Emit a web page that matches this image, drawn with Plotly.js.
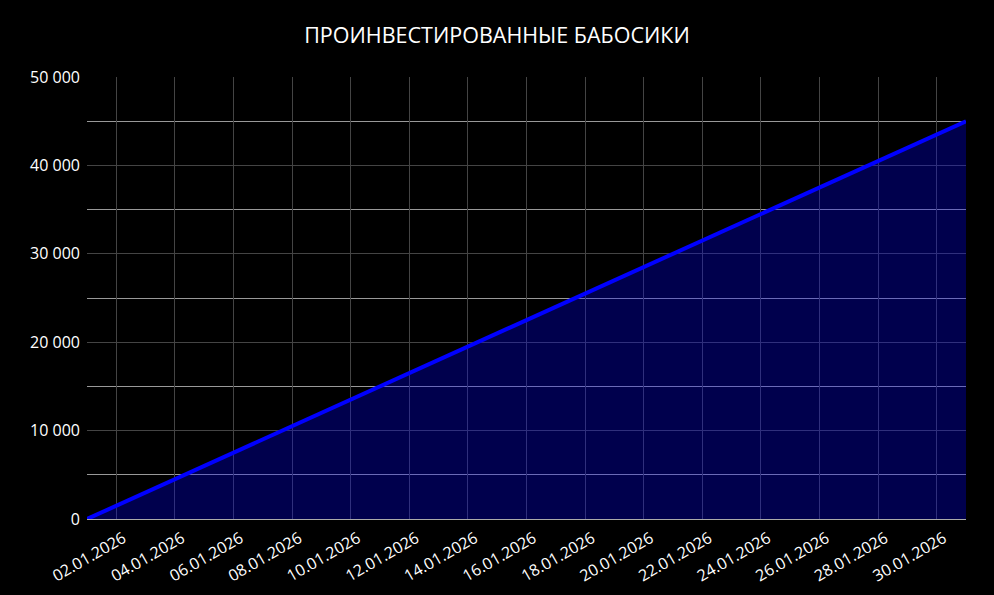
<!DOCTYPE html>
<html>
<head>
<meta charset="utf-8">
<script src="https://cdn.plot.ly/plotly-3.0.1.min.js"></script>
<style>html,body{margin:0;padding:0;background:#000;}#chart{width:994px;height:595px;}</style>
</head>
<body>
<div id="chart"></div>
<script>
const dates = ['2026-01-01','2026-01-02','2026-01-03','2026-01-04','2026-01-05','2026-01-06','2026-01-07','2026-01-08','2026-01-09','2026-01-10','2026-01-11','2026-01-12','2026-01-13','2026-01-14','2026-01-15','2026-01-16','2026-01-17','2026-01-18','2026-01-19','2026-01-20','2026-01-21','2026-01-22','2026-01-23','2026-01-24','2026-01-25','2026-01-26','2026-01-27','2026-01-28','2026-01-29','2026-01-30','2026-01-31'];
const invested = [0,1500,3000,4500,6000,7500,9000,10500,12000,13500,15000,16500,18000,19500,21000,22500,24000,25500,27000,28500,30000,31500,33000,34500,36000,37500,39000,40500,42000,43500,45000];
const titleText = 'ПРОИНВЕСТИРОВАННЫЕ БАБОСИКИ';

const font = "'Open Sans', 'Noto Sans', sans-serif";
Plotly.newPlot('chart', [{
  x: dates, y: invested, type: 'scatter', mode: 'lines',
  line: {color: '#0000ff', width: 4},
  fill: 'tozeroy', fillcolor: 'rgba(0,0,255,0.3)',
  hoverinfo: 'skip'
}], {
  width: 994, height: 595,
  paper_bgcolor: '#000', plot_bgcolor: '#000',
  margin: {l: 87, r: 28, t: 77, b: 76},
  separators: ', ',
  showlegend: false,
  title: {text: titleText, x: 0.5, xanchor: 'center', y: 0.94, yanchor: 'middle', font: {family: font, size: 21.5, color: '#fff'}},
  xaxis: {
    type: 'date', range: ['2026-01-01', '2026-01-31'],
    tick0: '2026-01-02', dtick: 172800000, tickformat: '%d.%m.%Y',
    tickangle: -30, tickfont: {family: font, size: 16, color: '#fff'},
    ticklabelshift: 7, ticklabelstandoff: 3,
    showgrid: true, gridcolor: '#444', gridwidth: 1,
    showline: true, linecolor: '#aaa', linewidth: 1,
    zeroline: false, ticks: '', fixedrange: true
  },
  yaxis: {
    range: [0, 50000], dtick: 10000, tickformat: ',d',
    tickfont: {family: font, size: 16, color: '#fff'},
    ticklabelstandoff: 6,
    showgrid: true, gridcolor: '#444', gridwidth: 1,
    minor: {dtick: 5000, showgrid: true, gridcolor: '#999', gridwidth: 1},
    zeroline: false, showline: false, ticks: '', fixedrange: true
  }
}, {displayModeBar: false, staticPlot: true});
</script>
</body>
</html>
